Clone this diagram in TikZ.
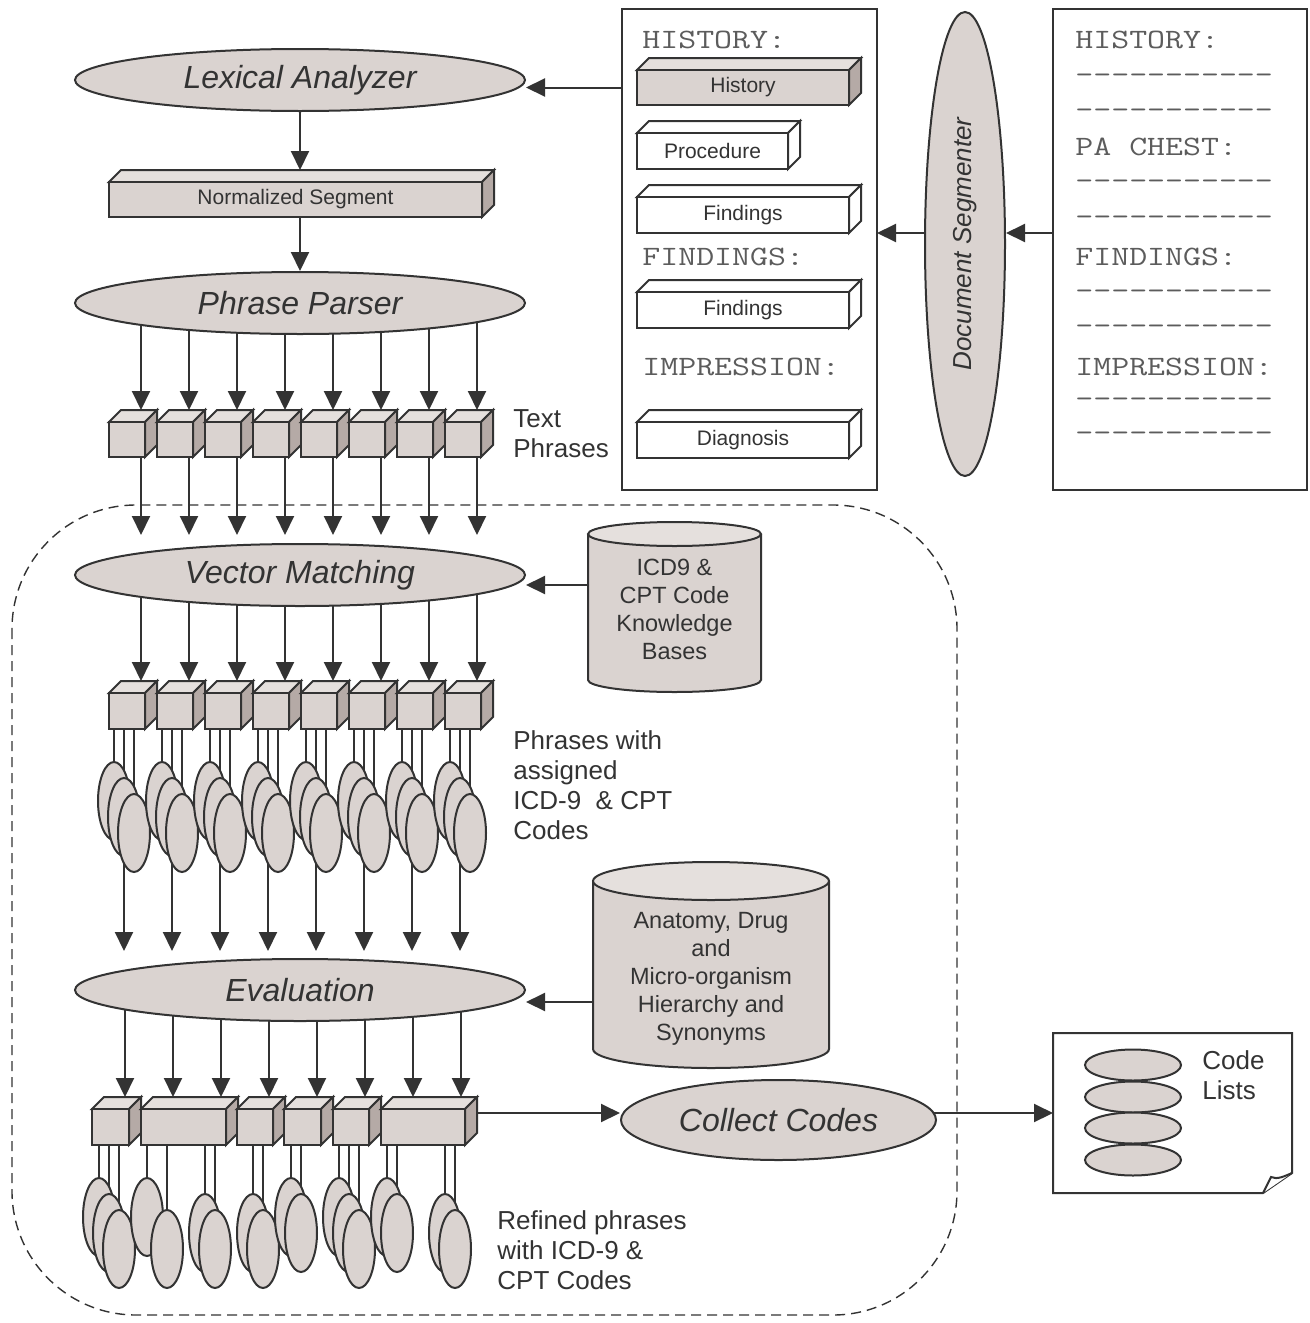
\documentclass[tikz,border=0pt]{standalone}
\usepackage{fontspec}
\setmainfont{Liberation Sans}
\usepackage{graphicx}
\usetikzlibrary{arrows.meta,shapes.geometric,backgrounds,calc}
\definecolor{fillc}{HTML}{DAD3D0}
\definecolor{topc}{HTML}{E5E0DD}
\definecolor{sidec}{HTML}{B5AAA6}
\definecolor{linec}{HTML}{333333}
\definecolor{textc}{HTML}{333333}
\definecolor{monoc}{HTML}{5C5C5C}
\newcommand\rsEll{\fontsize{16pt}{19pt}\selectfont\itshape}
\newcommand\rsBoxF{\fontsize{10.5pt}{12pt}\selectfont}
\newcommand\rsLab{\fontsize{13pt}{15pt}\selectfont}
\newcommand\rsCylF{\fontsize{11.75pt}{14pt}\selectfont}
\newcommand\rsDS{\fontsize{13pt}{15pt}\selectfont\itshape}
\newcommand\rsM[1]{\scalebox{1.245}[1]{\fontsize{14pt}{14pt}\selectfont\ttfamily #1}}
\newcommand\rsDashes{-{}-{}-{}-{}-{}-{}-{}-{}-{}-{}-}
\tikzset{
  ln/.style={draw=linec, line width=1pt},
  arr/.style={draw=linec, line width=1pt, -{Triangle[length=9.5pt,width=9pt]}},
  proc/.style={ellipse, ln, fill=fillc, minimum width=225pt, minimum height=31pt, inner sep=0pt, text=textc, font=\rsEll},
  smell/.style={ellipse, ln, fill=fillc, minimum width=16pt, minimum height=39pt, inner sep=0pt},
  lab/.style={anchor=north west, inner sep=0pt, align=left, text=textc, font=\rsLab},
  mono/.style={anchor=base west, inner sep=0pt, text=monoc},
  docbox/.style={rectangle, ln, fill=white, inner sep=0pt, outer sep=0pt},
  cyltxt/.style={align=center, inner sep=0pt, text=textc, font=\rsCylF},
  dashc/.style={draw=linec, line width=0.7pt, dash pattern=on 5pt off 3pt, rounded corners=62pt},
}
% 3D box: name, x, y (front top-left), w, h, front fill, top fill, side fill, text
\newcommand\rsBox[9]{%
  \draw[ln, fill=#7] (#2,#3) -- ++(12,-12) -- ++(#4,0) -- ++(-12,12) -- cycle;
  \draw[ln, fill=#8] (#2+#4,#3) -- ++(12,-12) -- ++(0,#5) -- ++(-12,12) -- cycle;
  \node[ln, fill=#6, rectangle, minimum width=#4*0.5pt, minimum height=#5*0.5pt, inner sep=0pt, outer sep=0pt, anchor=north west, text=textc, font=\rsBoxF] (#1) at (#2,#3) {#9};
}
% cylinder: cx, ytop, ybot, rx, ry
\newcommand\rsCyl[5]{%
  \draw[ln, fill=fillc] (#1-#4,#2) -- (#1-#4,#3) arc[start angle=180, end angle=0, x radius=#4, y radius=#5] -- (#1+#4,#2);
  \draw[ln, fill=topc] (#1,#2) ellipse [x radius=#4, y radius=#5];
}
\begin{document}
\begin{tikzpicture}[x=0.5pt,y=-0.5pt]
\useasboundingbox (0,0) rectangle (1310,1323);
% ---------- documents ----------
\node[docbox, minimum width=127.5pt, minimum height=240.5pt] (ldoc) at (749.5,249.5) {};
\node[docbox, minimum width=127pt, minimum height=240.5pt] (rdoc) at (1180,249.5) {};
\node[mono] (lt1) at (642,48) {\rsM{HISTORY:}};
\rsBox{hist}{637}{70}{212}{35}{fillc}{topc}{sidec}{History}
\rsBox{proc}{637}{133}{151}{36}{white}{white}{white}{Procedure}
\rsBox{fnd1}{637}{197}{212}{36}{white}{white}{white}{Findings}
\node[mono] (lt2) at (642,265) {\rsM{FINDINGS:}};
\rsBox{fnd2}{637}{292}{212}{36}{white}{white}{white}{Findings}
\node[mono] (lt3) at (642,375) {\rsM{IMPRESSION:}};
\rsBox{diag}{637}{422}{212}{36}{white}{white}{white}{Diagnosis}
\node[mono] (rt1) at (1075,48) {\rsM{HISTORY:}};
\node[mono] (rt2) at (1075,155) {\rsM{PA CHEST:}};
\node[mono] (rt3) at (1075,265) {\rsM{FINDINGS:}};
\node[mono] (rt4) at (1075,375) {\rsM{IMPRESSION:}};
\foreach \n/\y in {1/83,2/118,3/189,4/225,5/299,6/334,7/407,8/441}
  \node[mono] (rd\n) at (1075,\y) {\rsM{\rsDashes}};
\node[ellipse, ln, fill=fillc, rotate=90, minimum width=232pt, minimum height=40pt, inner sep=0pt, text=textc, font=\rsDS] (ds) at (965,244) {Document Segmenter};
\coordinate (ys) at (0,233);
% ---------- left column top ----------
\node[proc] (la) at (300,80) {Lexical Analyzer};
\rsBox{ns}{109}{182}{373}{35}{fillc}{topc}{sidec}{Normalized Segment}
\node[proc] (pp) at (300,303) {Phrase Parser};
\foreach \i in {0,...,7} {
  \rsBox{ca\i}{109+48*\i}{422}{36}{35}{fillc}{topc}{sidec}{}
  \coordinate (ta\i) at (141+48*\i,410);
}
\node[lab] (lbt) at (513,409) {Text\\Phrases};
% ---------- dashed region ----------
\draw[dashc] (12,505) rectangle (957,1315);
\node[proc] (vm) at (300,575) {Vector Matching};
\rsCyl{674.5}{534}{680}{86.5}{12}
\node[cyltxt] (kb1) at (674.5,609) {ICD9 \&\\CPT Code\\Knowledge\\Bases};
\coordinate (kbA) at (588,585);
\foreach \i in {0,...,7} {
  \rsBox{cb\i}{109+48*\i}{693}{36}{36}{fillc}{topc}{sidec}{}
  \coordinate (tb\i) at (141+48*\i,681);
}
\foreach \i in {0,...,7} {
  \foreach \k in {0,1,2} {
    \node[smell] (e\i-\k) at (114+10*\k+48*\i, 801+16*\k) {};
  }
}
\node[lab] (lbp) at (513,730) {Phrases with\\assigned\\ICD-9 \ \& CPT\\Codes};
\rsCyl{711}{881}{1049}{118}{19}
\node[cyltxt] (kb2) at (711,979) {Anatomy, Drug\\and\\Micro-organism\\Hierarchy and\\Synonyms};
\coordinate (kbB) at (593,1002);
\node[proc] (ev) at (300,990) {Evaluation};
\foreach \b/\x/\w in {1/92/37,2/141/85,3/237/36,4/284/37,5/333/36,6/381/84} {
  \rsBox{rb\b}{\x}{1109}{\w}{36}{fillc}{topc}{sidec}{}
}
\foreach \i in {0,...,7} {\coordinate (tc\i) at (125+48*\i,1097);}
\foreach \n/\x/\y in {1/99/1217,2/109/1233,3/119/1249,4/147/1217,5/167/1249,6/205/1233,7/215/1249,8/253/1233,9/263/1249,10/291/1217,11/301/1233,12/339/1217,13/349/1233,14/359/1249,15/387/1217,16/397/1233,17/445/1233,18/455/1249}
  \node[smell] (r\n) at (\x,\y) {};
\node[lab] (lbr) at (497,1210) {Refined phrases\\with ICD-9 \&\\CPT Codes};
\node[proc, minimum width=157.5pt, minimum height=40pt] (cc) at (778.5,1120) {Collect Codes};
% ---------- code lists ----------
\draw[ln, fill=white] (1053,1033) -- (1292,1033) -- (1292,1173) -- (1263,1193) -- (1053,1193) -- cycle;
\draw[ln, fill=white] (1263,1193) -- (1271,1177) .. controls (1277,1180) and (1285,1176) .. (1292,1173);
\coordinate (clw) at (1053,1113);
\foreach \n/\y in {1/1065,2/1097,3/1128,4/1160}
  \node[ellipse, ln, fill=fillc, minimum width=48pt, minimum height=15.5pt, inner sep=0pt] (cl\n) at (1133,\y) {};
\node[lab] (lbc) at (1202,1050) {Code\\Lists};
% ---------- connectors ----------
\begin{pgfonlayer}{background}
\fill[white] (0,0) rectangle (1310,1323);
\draw[arr] (hist.west) -- (hist.west -| la.east);
\draw[arr] (la.south) -- ($(la.south |- ns.north)+(0,-12)$);
\draw[arr] (ns.south -| pp.north) -- (pp.north);
\foreach \i in {0,...,7} {
  \draw[arr] (pp.center -| ta\i) -- (ta\i);
  \draw[arr] (ta\i) -- ($(ta\i |- vm.north)+(0,-8)$);
  \draw[arr] (vm.center -| tb\i) -- (tb\i);
  \foreach \k in {0,1,2} {\draw[ln] (e\i-\k.center |- cb\i.south) -- (e\i-\k.center);}
  \draw[arr] (e\i-1.center) -- ($(e\i-1.center |- ev.north)+(0,-7)$);
  \draw[arr] (ev.center -| tc\i) -- (tc\i);
}
\foreach \n/\b in {1/1,2/1,3/1,4/2,5/2,6/2,7/2,8/3,9/3,10/4,11/4,12/5,13/5,14/5,15/6,16/6,17/6,18/6}
  \draw[ln] (r\n.center |- rb\b.south) -- (r\n.center);
\draw[arr] (rb6.center |- clw) -- (cc.west |- clw);
\draw[arr] (cc.center |- clw) -- (clw);
\draw[arr] (kbA) -- (kbA -| vm.east);
\draw[arr] (kbB) -- (kbB -| ev.east);
\draw[arr] (rdoc.west |- ys) -- (ds.south |- ys);
\draw[arr] (ds.center |- ys) -- (ldoc.east |- ys);
\end{pgfonlayer}
\end{tikzpicture}
\end{document}
